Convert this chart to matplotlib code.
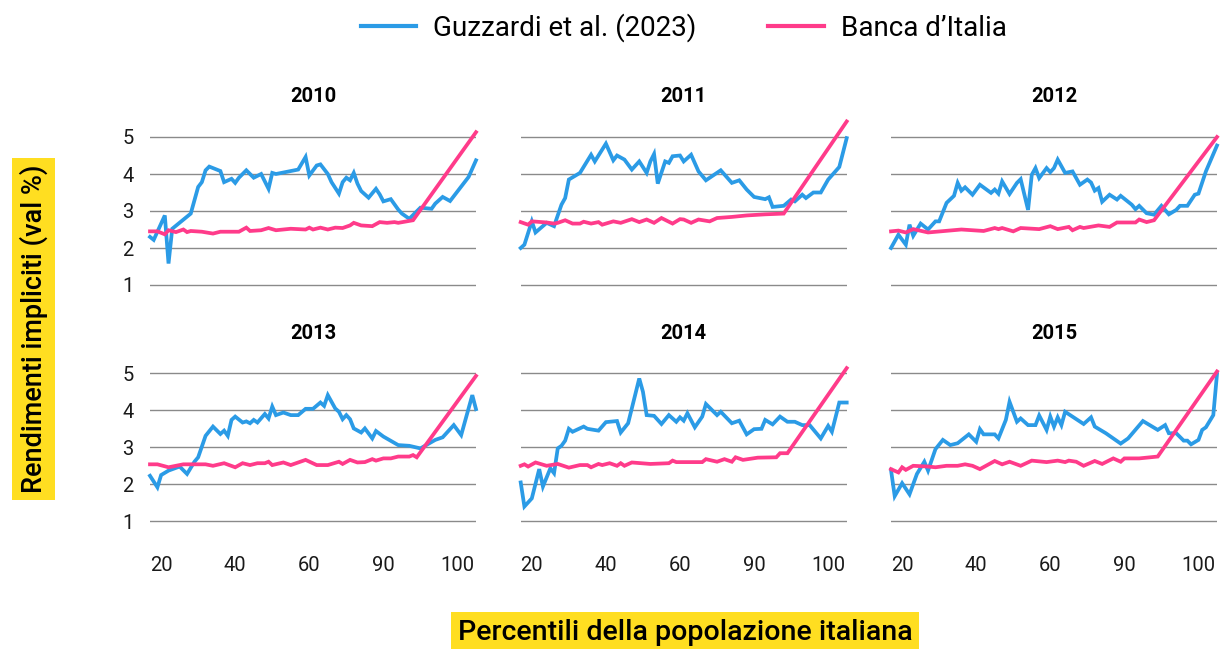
import matplotlib
matplotlib.use("Agg")
import matplotlib.pyplot as plt
from matplotlib.lines import Line2D

# x = position of the percentile category along the axis
tick_pos = [3, 23, 43, 63, 83]
tick_labels = ["20", "40", "60", "90", "100"]
yticks = [1, 2, 3, 4, 5]

# Guzzardi et al. (2023)
guz_x_2010 = [0, 1, 4, 5, 6, 11, 13, 14, 15, 16, 19, 20, 22, 23, 24, 26, 28, 30, 32, 33, 34, 40, 42, 43, 45,
              46, 48, 49, 51, 52, 53, 54, 55, 56, 57, 59, 61, 62, 63, 65, 67, 68, 70, 73, 76, 77, 79, 81, 86, 88]
guz_2010 = [2.3, 2.22, 2.88, 1.58, 2.52, 2.93, 3.65, 3.78, 4.1, 4.2, 4.08, 3.78, 3.87, 3.76, 3.9, 4.1, 3.9, 4.0,
            3.6, 4.03, 4.0, 4.12, 4.46, 3.96, 4.23, 4.26, 4.0, 3.78, 3.47, 3.78, 3.9, 3.83, 4.03, 3.74, 3.54,
            3.36, 3.6, 3.45, 3.26, 3.32, 3.04, 2.93, 2.79, 3.09, 3.06, 3.2, 3.38, 3.27, 3.92, 4.37]

guz_x_2011 = [0, 1, 3, 4, 7, 9, 11, 12, 13, 16, 19, 20, 23, 25, 26, 28, 30, 32, 34, 35, 36, 37, 39, 40, 41, 43,
              44, 46, 48, 50, 54, 57, 59, 61, 63, 66, 67, 68, 71, 73, 74, 76, 77, 79, 81, 83, 86, 88]
guz_2011 = [2.0, 2.09, 2.72, 2.42, 2.68, 2.59, 3.17, 3.35, 3.85, 4.03, 4.52, 4.34, 4.82, 4.37, 4.5, 4.39, 4.12,
            4.34, 4.03, 4.34, 4.54, 3.74, 4.34, 4.3, 4.48, 4.5, 4.34, 4.52, 4.07, 3.83, 4.1, 3.76, 3.83, 3.58,
            3.38, 3.32, 3.37, 3.11, 3.14, 3.31, 3.26, 3.44, 3.35, 3.5, 3.5, 3.85, 4.19, 4.97]

guz_x_2012 = [0, 2, 4, 5, 6, 8, 10, 12, 13, 15, 17, 18, 19, 20, 22, 24, 27, 28, 29, 30, 32, 34, 35, 37, 38, 39,
              40, 42, 43, 44, 45, 47, 49, 51, 53, 54, 55, 56, 57, 59, 61, 62, 65, 66, 67, 69, 71, 73, 75, 77,
              78, 80, 82, 83, 85, 88]
guz_2012 = [2.0, 2.36, 2.09, 2.63, 2.33, 2.66, 2.5, 2.72, 2.72, 3.22, 3.41, 3.76, 3.55, 3.64, 3.44, 3.71, 3.49,
            3.58, 3.47, 3.8, 3.46, 3.76, 3.86, 3.03, 3.98, 4.16, 3.89, 4.16, 4.05, 4.16, 4.39, 4.03, 4.07,
            3.71, 3.85, 3.77, 3.55, 3.62, 3.25, 3.44, 3.31, 3.41, 3.17, 3.05, 3.14, 2.94, 2.9, 3.14, 2.91,
            3.03, 3.14, 3.14, 3.44, 3.47, 4.07, 4.77]

guz_x_2013 = [0, 2, 3, 5, 8, 10, 12, 13, 15, 17, 19, 20, 21, 22, 23, 25, 26, 27, 28, 29, 31, 32, 33, 34, 36,
              38, 40, 42, 44, 46, 47, 48, 50, 51, 52, 53, 54, 55, 57, 58, 60, 61, 63, 67, 70, 73, 77, 79, 82,
              84, 87, 88]
guz_2013 = [2.23, 1.92, 2.25, 2.37, 2.48, 2.28, 2.61, 2.73, 3.31, 3.56, 3.36, 3.45, 3.31, 3.74, 3.83, 3.67,
            3.7, 3.65, 3.74, 3.67, 3.9, 3.78, 4.1, 3.87, 3.94, 3.87, 3.87, 4.04, 4.04, 4.21, 4.12, 4.41, 4.05,
            3.96, 3.76, 3.87, 3.76, 3.51, 3.4, 3.51, 3.24, 3.44, 3.29, 3.06, 3.04, 2.97, 3.2, 3.27, 3.6, 3.33,
            4.41, 4.03]

guz_x_2014 = [0, 1, 3, 5, 6, 8, 9, 10, 11, 12, 13, 14, 17, 18, 21, 23, 26, 27, 29, 32, 33, 34, 36, 38, 40,
              42, 43, 44, 45, 47, 49, 50, 53, 54, 57, 59, 61, 63, 65, 66, 68, 70, 72, 74, 76, 78, 81, 83, 84,
              86, 88]
guz_2014 = [2.05, 1.4, 1.62, 2.41, 1.94, 2.43, 2.3, 2.97, 3.04, 3.18, 3.5, 3.42, 3.56, 3.5, 3.45, 3.68, 3.71,
            3.4, 3.65, 4.86, 4.5, 3.87, 3.85, 3.63, 3.87, 3.69, 3.81, 3.72, 3.92, 3.54, 3.83, 4.17, 3.87,
            3.96, 3.65, 3.72, 3.35, 3.49, 3.5, 3.74, 3.62, 3.83, 3.69, 3.69, 3.6, 3.6, 3.24, 3.58, 3.42, 4.21,
            4.21]

guz_x_2015 = [0, 1, 3, 5, 7, 9, 10, 12, 14, 16, 18, 21, 23, 24, 25, 28, 29, 31, 32, 34, 35, 37, 39, 40, 42,
              43, 44, 45, 46, 47, 52, 54, 55, 58, 62, 64, 68, 72, 74, 75, 77, 79, 80, 81, 83, 84, 85, 87, 88]
guz_2015 = [2.39, 1.68, 2.03, 1.73, 2.28, 2.61, 2.37, 2.95, 3.2, 3.06, 3.11, 3.35, 3.15, 3.49, 3.35, 3.35,
            3.24, 3.74, 4.23, 3.69, 3.78, 3.6, 3.6, 3.86, 3.47, 3.83, 3.56, 3.81, 3.6, 3.96, 3.63, 3.81, 3.56,
            3.38, 3.1, 3.24, 3.71, 3.47, 3.6, 3.38, 3.38, 3.18, 3.18, 3.08, 3.2, 3.47, 3.54, 3.87, 4.98]

# Banca d'Italia
bi_x_2010 = [0, 2, 4, 5, 7, 9, 10, 11, 14, 17, 19, 24, 26, 27, 30, 32, 34, 38, 42, 43, 44, 46, 48, 50, 52,
             54, 55, 57, 60, 62, 64, 66, 67, 71, 88]
bi_2010 = [2.45, 2.45, 2.37, 2.48, 2.43, 2.5, 2.43, 2.46, 2.44, 2.39, 2.44, 2.44, 2.55, 2.46, 2.48, 2.54,
           2.48, 2.52, 2.5, 2.55, 2.5, 2.55, 2.5, 2.55, 2.54, 2.61, 2.68, 2.61, 2.59, 2.7, 2.68, 2.7, 2.68,
           2.75, 5.13]

bi_x_2011 = [0, 2, 3, 7, 9, 10, 12, 14, 16, 17, 19, 21, 22, 25, 27, 30, 32, 34, 36, 38, 41, 43, 44, 46, 48,
             51, 53, 57, 61, 66, 71, 88]
bi_2011 = [2.7, 2.63, 2.72, 2.69, 2.66, 2.68, 2.75, 2.66, 2.66, 2.71, 2.66, 2.7, 2.63, 2.72, 2.68, 2.78, 2.7,
           2.77, 2.68, 2.81, 2.66, 2.78, 2.77, 2.68, 2.77, 2.72, 2.81, 2.84, 2.88, 2.91, 2.93, 5.42]

bi_x_2012 = [0, 2, 4, 6, 10, 19, 25, 28, 29, 30, 33, 35, 40, 43, 45, 48, 49, 51, 52, 56, 59, 61, 66, 67, 69,
             71, 88]
bi_2012 = [2.45, 2.47, 2.42, 2.51, 2.42, 2.5, 2.46, 2.54, 2.51, 2.54, 2.45, 2.54, 2.51, 2.59, 2.51, 2.57,
           2.48, 2.57, 2.54, 2.61, 2.57, 2.69, 2.69, 2.77, 2.7, 2.75, 5.0]

bi_x_2013 = [0, 2, 5, 9, 15, 17, 20, 23, 25, 27, 29, 31, 32, 33, 36, 38, 42, 45, 48, 51, 52, 54, 56, 58, 60,
             61, 63, 65, 67, 70, 71, 72, 88]
bi_2013 = [2.54, 2.54, 2.46, 2.54, 2.54, 2.5, 2.57, 2.46, 2.57, 2.52, 2.57, 2.57, 2.61, 2.52, 2.59, 2.52,
           2.66, 2.52, 2.52, 2.61, 2.55, 2.66, 2.59, 2.6, 2.68, 2.64, 2.7, 2.7, 2.75, 2.75, 2.79, 2.73, 4.93]

bi_x_2014 = [0, 1, 2, 4, 7, 10, 13, 16, 18, 19, 21, 22, 24, 26, 27, 28, 30, 35, 40, 41, 42, 49, 50, 53, 55,
             57, 58, 60, 64, 69, 70, 72, 88]
bi_2014 = [2.5, 2.54, 2.48, 2.59, 2.5, 2.55, 2.45, 2.52, 2.52, 2.46, 2.55, 2.52, 2.57, 2.5, 2.57, 2.5, 2.59,
           2.55, 2.57, 2.64, 2.6, 2.6, 2.68, 2.61, 2.68, 2.61, 2.73, 2.66, 2.72, 2.73, 2.84, 2.84, 5.14]

bi_x_2015 = [0, 2, 3, 4, 6, 10, 12, 15, 18, 20, 22, 24, 26, 28, 30, 32, 35, 38, 42, 45, 47, 48, 50, 52, 55,
             57, 60, 62, 63, 67, 72, 88]
bi_2015 = [2.41, 2.32, 2.46, 2.39, 2.5, 2.48, 2.46, 2.5, 2.5, 2.54, 2.5, 2.41, 2.52, 2.63, 2.54, 2.61, 2.5,
           2.64, 2.6, 2.64, 2.6, 2.64, 2.61, 2.5, 2.63, 2.55, 2.7, 2.61, 2.7, 2.7, 2.75, 5.05]

years = [2010, 2011, 2012, 2013, 2014, 2015]
guz = [(guz_x_2010, guz_2010), (guz_x_2011, guz_2011), (guz_x_2012, guz_2012),
       (guz_x_2013, guz_2013), (guz_x_2014, guz_2014), (guz_x_2015, guz_2015)]
bi = [(bi_x_2010, bi_2010), (bi_x_2011, bi_2011), (bi_x_2012, bi_2012),
      (bi_x_2013, bi_2013), (bi_x_2014, bi_2014), (bi_x_2015, bi_2015)]

BLUE = "#2b9be6"
PINK = "#ff3b8a"
YELLOW = "#ffde21"
GRID = "#8a8a8a"

plt.rcParams["font.family"] = ["Roboto", "DejaVu Sans"]

W, H = 1223, 649
fig = plt.figure(figsize=(W / 100, H / 100), dpi=100)

col_left = [150, 520.7, 891]
row_top = [114.8, 351.1]
ax_w, ax_h = 326, 185

for k, year in enumerate(years):
    r, c = divmod(k, 3)
    left = col_left[c] / W
    bottom = 1 - (row_top[r] + ax_h) / H
    ax = fig.add_axes([left, bottom, ax_w / W, ax_h / H])

    ax.plot(*guz[k], color=BLUE, lw=2.7, solid_joinstyle="miter", clip_on=False, zorder=3)
    ax.plot(*bi[k], color=PINK, lw=2.7, solid_joinstyle="miter", clip_on=False, zorder=4)

    ax.set_xlim(0, 88)
    ax.set_ylim(0.6, 5.6)
    ax.set_yticks(yticks)
    ax.set_xticks(tick_pos)
    ax.grid(axis="y", color=GRID, lw=1.0)
    ax.set_axisbelow(True)
    for s in ax.spines.values():
        s.set_visible(False)
    ax.tick_params(length=0, labelsize=14.5, colors="#1a1a1a", pad=12)
    if r == 1:
        ax.set_xticklabels(tick_labels)
        ax.tick_params(axis="x", pad=14)
    else:
        ax.set_xticklabels([])
    if c == 0:
        ax.set_yticklabels([str(v) for v in yticks])
    else:
        ax.set_yticklabels([])
    ax.set_title(str(year), fontsize=14.5, fontweight="bold", pad=9)

handles = [Line2D([], [], color=BLUE, lw=3), Line2D([], [], color=PINK, lw=3)]
fig.legend(handles, ["Guzzardi et al. (2023)", "Banca d\u2019Italia"], loc="center",
           bbox_to_anchor=(683.5 / W, 1 - 28 / H), ncol=2, frameon=False, fontsize=20,
           handlelength=2.0, handletextpad=0.6, columnspacing=2.6)

fig.text(33.5 / W, 1 - 329 / H, "Rendimenti impliciti (val %)", rotation=90, ha="center", va="center",
         fontsize=19.5, fontweight="medium",
         bbox=dict(boxstyle="square,pad=0.25", fc=YELLOW, ec="none"))
fig.text(685 / W, 1 - 633 / H, "Percentili della popolazione italiana", ha="center", va="center",
         fontsize=20.5, fontweight="medium",
         bbox=dict(boxstyle="square,pad=0.25", fc=YELLOW, ec="none"))

fig.savefig("out.png", dpi=100)
